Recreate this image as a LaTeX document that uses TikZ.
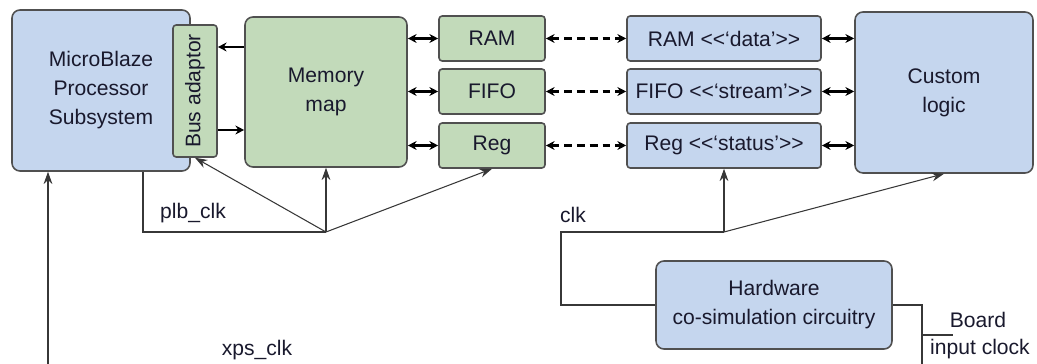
\documentclass[tikz,border=0pt]{standalone}
\usepackage{fontspec}
\setmainfont{Liberation Sans}[Ligatures=TeXOff]
\usepackage{xcolor}
\usetikzlibrary{arrows.meta, positioning, calc}
\definecolor{boxblue}{RGB}{197, 214, 238}
\definecolor{boxgreen}{RGB}{194, 218, 186}
\definecolor{boxedge}{RGB}{80, 80, 80}
\definecolor{wiregray}{RGB}{55, 55, 55}
\definecolor{textdark}{RGB}{25, 25, 45}

\begin{document}
\begin{tikzpicture}[
    x=0.02cm, y=-0.02cm,
    font=\fontsize{12}{16.5}\selectfont, text=textdark,
    block/.style={rectangle, rounded corners=4.5pt, draw=boxedge, fill=#1, line width=0.9pt, align=center, inner sep=2pt},
    port/.style={rectangle, rounded corners=1.8pt, draw=boxedge, fill=#1, line width=0.9pt, minimum width=2.12cm, minimum height=0.9cm, align=center, inner sep=1pt},
    link/.style={{Stealth[length=5pt,width=5pt]}-{Stealth[length=5pt,width=5pt]}, line width=1.2pt, black},
    dlink/.style={link, dash pattern=on 4.5pt off 2.8pt},
    busarrow/.style={-{Stealth[length=5pt,width=5pt]}, line width=1.2pt, black},
    wire/.style={line width=0.6pt, wiregray},
    wirearrow/.style={wire, -{Stealth[length=7pt,width=5pt]}}
]
\useasboundingbox (0,0) rectangle (1037,364);

% Processor side
\node[block=boxblue, minimum width=3.56cm, minimum height=3.22cm] (mb) at (101,90.5) {MicroBlaze\\Processor\\Subsystem};
\node[port=boxgreen, rotate=90, minimum width=2.64cm, minimum height=0.88cm] (bus) at (195,91) {Bus adaptor};
\node[block=boxgreen, minimum width=3.24cm, minimum height=3cm] (mem) at (326,92) {Memory\\map};

% Shared memories
\node[port=boxgreen] (ramg) at (492,38.5) {RAM};
\node[port=boxgreen] (fifog) at (492,91.5) {FIFO};
\node[port=boxgreen] (regg) at (492,145.5) {Reg};
\node[port=boxblue, minimum width=3.88cm] (ramb) at (724,38.5) {RAM <<‘data’>>};
\node[port=boxblue, minimum width=3.88cm] (fifob) at (724,91.5) {FIFO <<‘stream’>>};
\node[port=boxblue, minimum width=3.88cm] (regb) at (724,145.5) {Reg <<‘status’>>};

% Hardware side
\node[block=boxblue, minimum width=3.56cm, minimum height=3.22cm] (cust) at (944,92.5) {Custom\\logic};
\node[block=boxblue, minimum width=4.72cm, minimum height=1.76cm] (hw) at (774,305) {Hardware\\co-simulation circuitry};

% Clock points
\coordinate (busin) at (0,47);
\coordinate (busout) at (0,130);
\coordinate (plbhub) at (326,232);
\coordinate (plbcorner) at (143,232);
\coordinate (clkhub) at (724,232);
\coordinate (clkcorner) at (561,232);
\coordinate (xpsin) at (48,364);
\coordinate (boardin) at (922,364);
\coordinate (boardtap) at (922,335);
\coordinate (boardend) at (953,335);

% Bus adaptor arrows
\draw[busarrow] (mem.west |- busin) -- (bus.south |- busin);
\draw[busarrow] (bus.south |- busout) -- (mem.west |- busout);

% Memory links
\foreach \g/\b in {ramg/ramb, fifog/fifob, regg/regb} {
  \draw[link] (mem.east |- \g) -- (\g);
  \draw[dlink] (\g) -- (\b);
  \draw[link] (\b) -- (\b -| cust.west);
}

% Clocks
\draw[wire] (plbhub) -- (plbcorner) -- (plbcorner |- mb.south);
\draw[wirearrow] (plbhub) -- (bus.west);
\draw[wirearrow] (plbhub) -- (mem.south);
\draw[wirearrow] (plbhub) -- (regg.south);
\draw[wirearrow] (xpsin) -- (xpsin |- mb.south);
\draw[wire] (clkhub) -- (clkcorner) |- (hw.west);
\draw[wirearrow] (clkhub) -- (regb.south);
\draw[wirearrow] (clkhub) -- (cust.south);
\draw[wire] (hw.east) -| (boardin);
\draw[wire] (boardtap) -- (boardend);

% Labels
\node (plblbl) at (193,213) {plb\_clk};
\node (clklbl) at (573,215) {clk};
\node (xpslbl) at (257,350) {xps\_clk};
\node (boardlbl) at (978,320) {Board};
\node (inputlbl) at (980,349) {input clock};

\end{tikzpicture}
\end{document}
